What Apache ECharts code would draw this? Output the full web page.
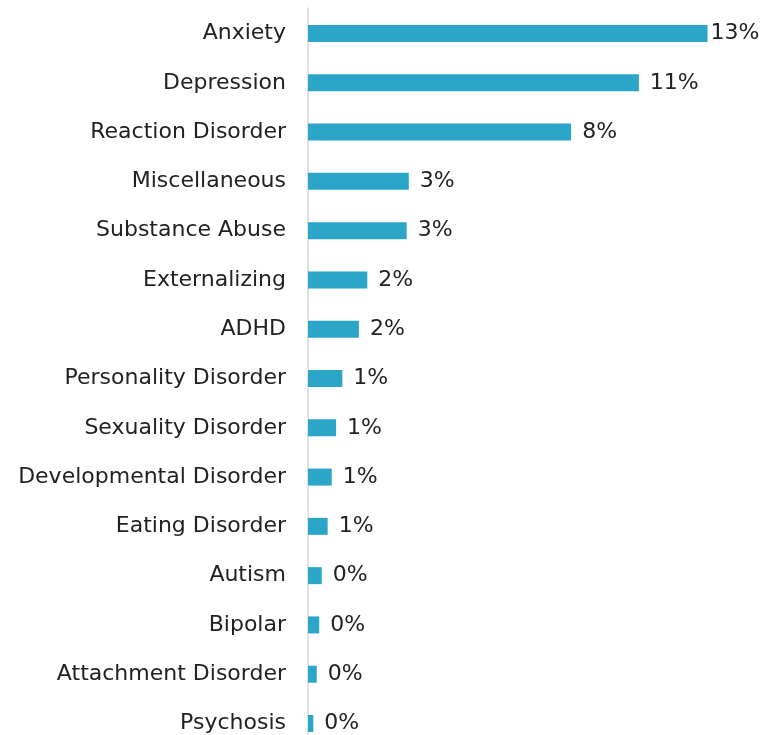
<!DOCTYPE html>
<html><head><meta charset="utf-8">
<script src="https://cdn.jsdelivr.net/npm/echarts@6/dist/echarts.min.js"></script>
<style>html,body{margin:0;padding:0;background:#fff}#c{width:771px;height:735px}</style>
</head><body><div id="c"></div>
<script>
const categories = ["Anxiety","Depression","Reaction Disorder","Miscellaneous","Substance Abuse","Externalizing","ADHD","Personality Disorder","Sexuality Disorder","Developmental Disorder","Eating Disorder","Autism","Bipolar","Attachment Disorder","Psychosis"];
const values = [12.8,10.6,8.43,3.23,3.16,1.9,1.63,1.1,0.9,0.76,0.63,0.44,0.36,0.28,0.17];

const chart = echarts.init(document.getElementById('c'));
chart.setOption({
  animation:false,
  grid:[
    {left:308, top:33.5, right:26, bottom:11.5, containLabel:false},
    {left:308, top:8, right:26, bottom:0, containLabel:false}
  ],
  xAxis:[
    {type:'value', min:0, max:14, show:false, gridIndex:0},
    {type:'value', min:0, max:1, show:false, gridIndex:1}
  ],
  yAxis:[
    {type:'category', data:categories, inverse:true, boundaryGap:false, gridIndex:0,
      axisLine:{show:false}, axisTick:{show:false}, splitLine:{show:false},
      axisLabel:{margin:22, color:'#222', fontFamily:'DejaVu Sans', fontSize:22}
    },
    {type:'value', min:0, max:1, gridIndex:1,
      axisLine:{show:true, lineStyle:{color:'#d9d9d9', width:1.5}},
      axisTick:{show:false}, axisLabel:{show:false}, splitLine:{show:false}
    }
  ],
  series:[{type:'bar', barWidth:17, clip:false, xAxisIndex:0, yAxisIndex:0,
    data: values.map((v,i)=> i===0 ? {value:v, label:{distance:3}} : v),
    itemStyle:{color:'#2ba6c8'},
    label:{show:true, position:'right', distance:11, color:'#222', fontFamily:'DejaVu Sans', fontSize:22,
      formatter:p=>Math.round(p.value)+'%'}
  }]
});
</script></body></html>
